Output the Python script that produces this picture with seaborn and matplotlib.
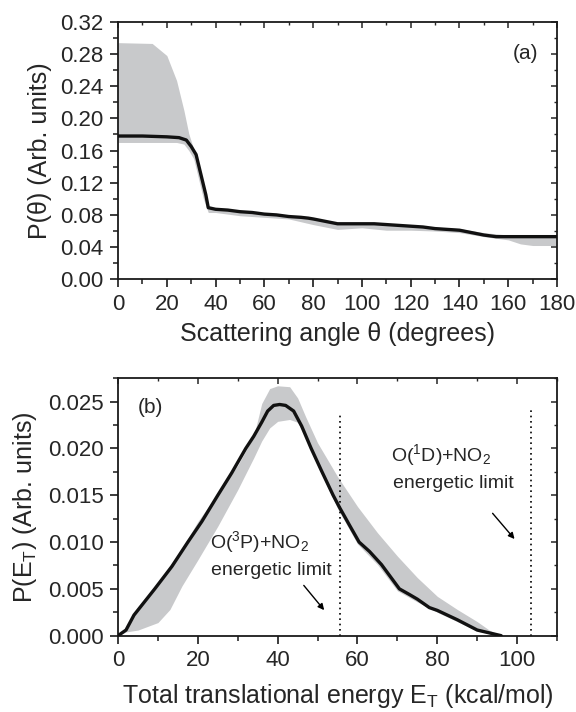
import numpy as np
import pandas as pd
import matplotlib
matplotlib.use("Agg")
import matplotlib.pyplot as plt
from matplotlib.ticker import MultipleLocator, FormatStrFormatter
import seaborn as sns

# ---- Panel (a): angular distribution ----
theta_line = [0, 10, 20, 25, 28, 30, 32, 34, 36, 37, 40, 45, 50, 55, 60, 65, 70, 75, 78, 80,
              85, 90, 95, 100, 105, 110, 115, 120, 125, 130, 135, 140, 145, 150, 155, 160, 170, 180]
p_theta = [0.178, 0.178, 0.177, 0.176, 0.173, 0.165, 0.155, 0.130, 0.105, 0.089, 0.087, 0.086,
           0.084, 0.083, 0.081, 0.080, 0.078, 0.077, 0.076, 0.075, 0.072, 0.069, 0.069, 0.069,
           0.069, 0.068, 0.067, 0.066, 0.065, 0.063, 0.062, 0.061, 0.058, 0.055, 0.053, 0.053,
           0.053, 0.053]

theta_band = [0, 14, 20, 24, 27, 29, 31, 33, 35, 37, 40, 50, 60, 70, 80, 90, 100, 110, 120,
              130, 140, 150, 160, 165, 170, 180]
p_theta_hi = [0.294, 0.293, 0.278, 0.247, 0.210, 0.181, 0.162, 0.142, 0.115, 0.090, 0.088,
              0.085, 0.082, 0.079, 0.076, 0.070, 0.070, 0.069, 0.067, 0.065, 0.063, 0.058,
              0.055, 0.055, 0.055, 0.055]
p_theta_lo = [0.170, 0.170, 0.170, 0.170, 0.168, 0.160, 0.150, 0.125, 0.100, 0.083, 0.083,
              0.079, 0.077, 0.075, 0.068, 0.062, 0.064, 0.061, 0.061, 0.060, 0.058, 0.053,
              0.049, 0.044, 0.042, 0.042]

# ---- Panel (b): translational energy distribution ----
e_line = [0, 2, 4, 9.2, 13.5, 17.5, 21, 25, 28.5, 32, 34, 36, 37.5, 39, 40.5, 42, 44, 46,
          48.4, 51, 53.9, 55.5, 58, 60.4, 63, 66, 70.5, 73, 75, 78, 80, 85, 90, 93, 96]
p_e = [0.0, 0.0006, 0.0022, 0.0050, 0.0074, 0.0100, 0.0122, 0.0150, 0.0174, 0.0200, 0.0213,
       0.0228, 0.0240, 0.0246, 0.0247, 0.0246, 0.0240, 0.0224, 0.0200, 0.0176, 0.0150, 0.0137,
       0.0118, 0.0100, 0.0090, 0.0076, 0.0050, 0.0044, 0.0039, 0.0030, 0.0027, 0.0017, 0.0006,
       0.0003, 0.0]

e_band = [0, 2, 5, 10, 13, 16, 20, 25, 30, 34, 36, 38, 40, 43, 45, 47, 50, 55, 60, 65, 70,
          75, 80, 85, 90, 93, 95, 96]
p_e_hi = [0.0, 0.0009, 0.0031, 0.0056, 0.0075, 0.0093, 0.0122, 0.0152, 0.0182, 0.0213, 0.0248,
          0.0264, 0.0267, 0.0266, 0.0254, 0.0234, 0.0206, 0.0170, 0.0138, 0.0110, 0.0085,
          0.0062, 0.0042, 0.0028, 0.0015, 0.0006, 0.0002, 0.0]
p_e_lo = [0.0, 0.0004, 0.0006, 0.0014, 0.0028, 0.0053, 0.0081, 0.0117, 0.0156, 0.0190, 0.0208,
          0.0222, 0.0229, 0.0231, 0.0228, 0.0212, 0.0182, 0.0136, 0.0098, 0.0076, 0.0048,
          0.0036, 0.0025, 0.0015, 0.0005, 0.0002, 0.0001, 0.0]

limits = [55.5, 103.5]
limit_tops = [0.0236, 0.0241]

sns.set_theme(style="white")
plt.rcParams["font.family"] = ["Liberation Sans", "DejaVu Sans"]
plt.rcParams["mathtext.fontset"] = "custom"
plt.rcParams["mathtext.rm"] = "Liberation Sans"
plt.rcParams["mathtext.it"] = "Liberation Sans"
plt.rcParams["axes.edgecolor"] = "#1a1a1a"

BAND = "#c8c9cb"
TICK_FS = 16
LAB_FS = 18

fig = plt.figure(figsize=(5.76, 7.12), dpi=100)
ax1 = fig.add_axes([0.2049, 0.6077, 0.7622, 0.3618])
ax2 = fig.add_axes([0.2049, 0.1072, 0.7622, 0.3615])

df_a = pd.DataFrame({"theta": theta_line, "P": p_theta})
df_b = pd.DataFrame({"E": e_line, "P": p_e})

ax1.fill_between(theta_band, p_theta_lo, p_theta_hi, color=BAND, lw=0, zorder=1)
sns.lineplot(data=df_a, x="theta", y="P", ax=ax1, color="#111111", lw=2.4, zorder=3)

ax2.fill_between(e_band, p_e_lo, p_e_hi, color=BAND, lw=0, zorder=1)
sns.lineplot(data=df_b, x="E", y="P", ax=ax2, color="#111111", lw=2.4, zorder=3)

for xl, yt in zip(limits, limit_tops):
    ax2.plot([xl, xl], [0, yt], color="black", lw=1.2, ls=(0, (1, 2.2)), zorder=2)

def style(ax, xmaj, xmin_, ymaj, ymin_, yfmt):
    for s in ax.spines.values():
        s.set_linewidth(1.3)
        s.set_color("#1a1a1a")
    ax.xaxis.set_major_locator(MultipleLocator(xmaj))
    ax.xaxis.set_minor_locator(MultipleLocator(xmin_))
    ax.yaxis.set_major_locator(MultipleLocator(ymaj))
    ax.yaxis.set_minor_locator(MultipleLocator(ymin_))
    ax.yaxis.set_major_formatter(FormatStrFormatter(yfmt))
    ax.tick_params(which="major", direction="out", length=6, width=1.2, labelsize=TICK_FS,
                   color="#1a1a1a", pad=4.5, bottom=True, left=True)
    ax.tick_params(which="minor", direction="out", length=3.5, width=1.1, color="#1a1a1a",
                   bottom=True, left=True)
    sx = ax.secondary_xaxis("top")
    sy = ax.secondary_yaxis("right")
    for sa, axis in ((sx, sx.xaxis), (sy, sy.yaxis)):
        axis.set_major_locator(MultipleLocator(xmaj if sa is sx else ymaj))
        axis.set_minor_locator(MultipleLocator(xmin_ if sa is sx else ymin_))
        sa.tick_params(which="major", direction="in", length=4, width=1.1, labelsize=0,
                       labelleft=False, labelright=False, labeltop=False, labelbottom=False)
        sa.tick_params(which="minor", direction="in", length=2.5, width=1.0)
        for s in sa.spines.values():
            s.set_visible(False)

ax1.set_xlim(0, 180)
ax1.set_ylim(0, 0.32)
style(ax1, 20, 10, 0.04, 0.02, "%.2f")
ax1.set_xlabel("Scattering angle θ (degrees)", fontsize=LAB_FS, labelpad=5)
ax1.set_ylabel("P(θ) (Arb. units)", fontsize=LAB_FS, labelpad=6)
ax1.text(167, 0.28, "(a)", fontsize=15, ha="center", va="center")

ax2.set_xlim(0, 110)
ax2.set_ylim(0, 0.0275)
style(ax2, 20, 10, 0.005, 0.0025, "%.3f")
ax2.set_xlabel("Total translational energy E$_T$ (kcal/mol)", fontsize=LAB_FS, labelpad=8)
ax2.set_ylabel("P(E$_T$) (Arb. units)", fontsize=LAB_FS, labelpad=6)
ax2.text(8, 0.0244, "(b)", fontsize=15, ha="center", va="center")

ax2.text(35.5, 0.0100, r"O($^3$P)+NO$_2$", fontsize=14, ha="center", va="center")
ax2.text(38.3, 0.0070, "energetic limit", fontsize=14, ha="center", va="center")
ax2.annotate("", xy=(52.1, 0.0025), xytext=(46.1, 0.0056),
             arrowprops=dict(arrowstyle="-|>", color="black", lw=1.0, mutation_scale=9))

ax2.text(81.0, 0.0193, r"O($^1$D)+NO$_2$", fontsize=14, ha="center", va="center")
ax2.text(84.0, 0.0163, "energetic limit", fontsize=14, ha="center", va="center")
ax2.annotate("", xy=(99.8, 0.0101), xytext=(93.4, 0.0133),
             arrowprops=dict(arrowstyle="-|>", color="black", lw=1.0, mutation_scale=9))

fig.savefig("out.png", dpi=100)
